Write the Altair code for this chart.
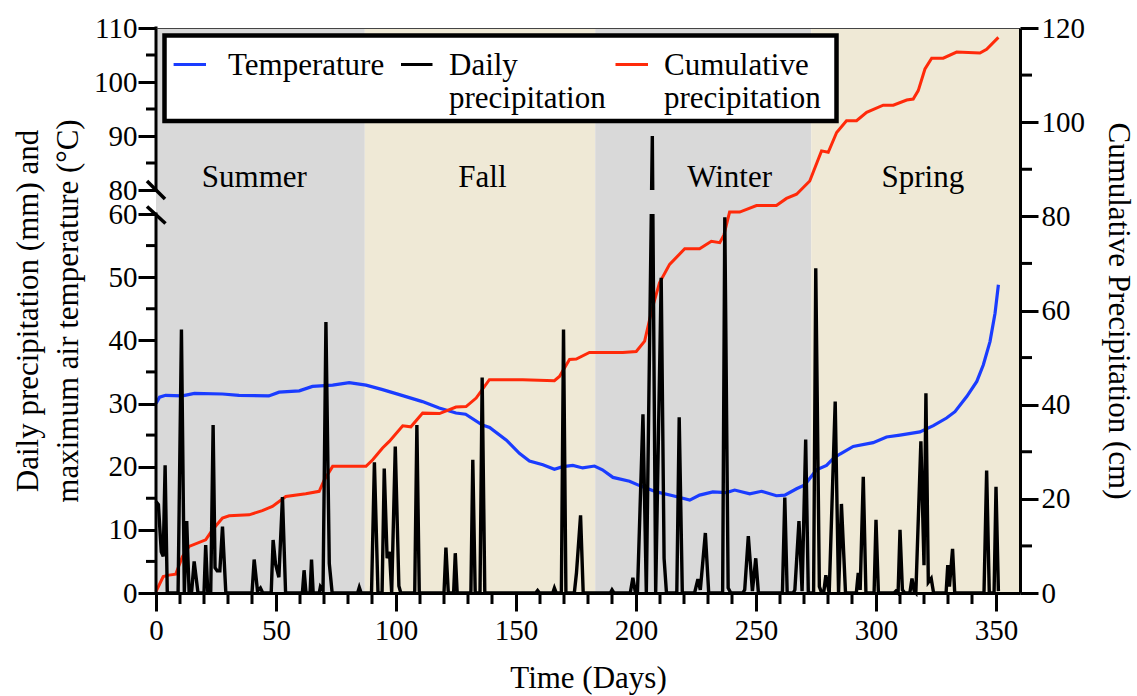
import altair as alt
import pandas as pd

# ---------------- data ----------------
# (day, maximum air temperature in degC)
temperature_points = [
    (0, 30.0), (1.5, 31.0), (4, 31.3), (11, 31.2), (16, 31.6), (27.7, 31.5),
    (34.6, 31.3), (47, 31.2), (51.3, 31.8), (59.7, 32.0), (65.2, 32.7),
    (73.6, 32.9), (80.5, 33.3), (87.5, 32.9), (94.4, 32.2), (101.4, 31.4),
    (111, 30.3), (118, 29.3), (125, 28.5), (129, 28.3), (136, 26.6),
    (139, 26.2), (146, 24.2), (151.4, 22.1), (155.6, 20.9), (161.2, 20.3),
    (166, 19.6), (169.5, 20.0), (173.7, 20.2), (177.8, 19.8), (182.7, 20.1),
    (186, 19.5), (190.4, 18.3), (197.3, 17.7), (201.5, 17.0), (208.5, 16.0),
    (215.4, 15.4), (222.4, 14.7), (226.5, 15.5), (232, 16.0), (237.7, 15.9),
    (241.1, 16.3), (247.4, 15.7), (252.3, 16.1), (258.5, 15.4), (262, 15.5),
    (266.9, 16.5), (270.3, 17.1), (275.2, 19.5), (279.4, 20.2), (282.2, 21.3),
    (285, 22.0), (290.5, 23.2), (298.8, 23.8), (304.4, 24.7), (310, 25.0),
    (318.3, 25.5), (323.9, 26.5), (329.4, 27.7), (332.9, 28.7), (337.8, 31.1),
    (342, 33.5), (344.7, 36.1), (347.5, 39.8), (349.6, 44.3), (351, 48.8),
]

# (day, daily precipitation in mm)
rain_points = [
    (0, 14.5), (1, 14.0), (2.2, 6.5), (3, 5.8), (3.8, 20.2), (4.7, 0),
    (9.2, 0), (10.6, 41.7), (11.8, 0), (12.8, 11.4), (13.8, 0), (14.8, 0),
    (15.9, 5.0), (17.5, 0),
    (20, 0), (20.7, 7.6), (21.6, 0), (22.8, 0), (23.8, 26.6), (24.6, 4.0),
    (25.5, 3.5), (26.6, 3.5), (27.7, 10.5), (29.1, 0),
    (40, 0), (40.9, 5.3), (42.3, 0.3), (43.5, 0.8), (44.5, 0),
    (48, 0), (48.8, 8.4), (49.8, 4.6), (51.2, 2.5), (52.7, 15.2), (54, 0),
    (61, 0), (61.7, 3.6), (62.5, 0), (64.2, 0), (64.8, 5.3), (65.5, 0),
    (68, 0), (68.5, 1.0), (69.6, 0.4), (70.8, 42.9), (72.2, 4.7), (73.4, 0),
    (84, 0), (84.7, 0.9), (85.5, 0),
    (89.8, 0), (91, 20.7), (92.5, 0), (94.2, 0), (95.1, 19.7), (96.3, 5.5),
    (97.3, 6.5), (98.2, 0), (99.7, 23.2), (101.2, 1.1), (102, 0),
    (107.8, 0), (108.7, 26.6), (109.7, 0),
    (120, 0), (120.8, 7.2), (121.8, 0), (124, 0), (124.7, 6.3), (125.5, 0),
    (131.2, 0), (132, 21.1), (133, 0), (135, 0), (135.9, 34.1), (137, 0),
    (158.2, 0), (159, 0.4), (159.8, 0), (165.3, 0), (166, 0.8), (166.8, 0),
    (168.9, 0), (169.8, 41.7), (170.8, 0),
    (174.3, 0), (175.2, 3.2), (176.9, 12.3), (178, 0),
    (189.3, 0), (190, 0.5), (190.8, 0),
    (197.6, 0), (198.7, 2.4), (199.8, 0), (200.6, 0), (202.9, 28.3),
    (204.3, 0), (206.8, 90.0), (208.2, 0), (210.5, 49.9), (211.7, 5.5),
    (212.7, 0),
    (217, 0), (218, 27.8), (219.3, 0),
    (224.4, 0), (225.8, 2.2), (226.8, 0.5), (228.9, 9.5), (230.3, 0),
    (236.1, 0), (237, 59.5), (238.4, 0.8), (239.5, 0),
    (244.5, 0), (245.3, 0.5), (246.8, 9.0), (248.5, 0.3), (249.9, 5.5), (251, 0),
    (261, 0), (262, 15.1), (263, 0),
    (265.5, 0), (266.2, 0.5), (267.9, 11.4), (269.2, 0.3), (270.7, 24.3),
    (271.8, 0),
    (274, 0), (274.9, 51.4), (276.4, 1.0), (277.4, 0), (278.2, 0), (279.1, 2.8),
    (280.5, 0), (283, 30.3), (284.4, 0), (285.6, 14.1), (287.3, 0),
    (291.8, 0), (292.6, 3.2), (293.4, 0.5), (294.7, 18.4), (295.8, 0),
    (299.2, 0), (300, 11.6), (301, 0),
    (307.5, 0), (308.3, 0.3), (309.2, 0), (310, 10.0), (311, 0.5), (312, 0),
    (314.1, 0), (315, 2.3), (315.9, 0.3), (316.6, 0), (318.7, 24.0),
    (320, 4.4), (320.8, 31.6), (321.8, 1.7), (323, 2.3), (324, 0),
    (329.2, 0), (329.9, 4.4), (330.6, 1.0), (331.9, 7.0), (332.8, 0),
    (345, 0), (346.1, 19.4), (347.2, 0), (349.2, 0), (350, 16.8), (351, 0.3),
]

# (day, cumulative precipitation in cm)
cumulative_points = [
    (0, 0.3), (3, 3.5), (5.4, 3.8), (8.2, 4.0), (11, 7.7), (13.8, 9.9),
    (20.7, 11.3), (23.5, 13.4), (27.7, 15.9), (30.5, 16.4), (38.8, 16.6),
    (44.3, 17.5), (48.5, 18.4), (54.1, 20.5), (62.4, 21.1), (68, 21.6),
    (70.1, 24.0), (73.6, 26.9), (87.5, 26.9), (90.3, 28.3), (94.4, 30.8),
    (97.2, 32.2), (102.8, 35.5), (106.2, 35.3), (111.1, 38.2), (118.1, 38.1),
    (125, 39.5), (129.2, 39.6), (133.4, 41.4), (138.9, 45.3), (152.8, 45.3),
    (166, 45.1), (168.1, 46.0), (172.3, 49.6), (175.1, 49.7), (180.6, 51.1),
    (194.5, 51.1), (200.1, 51.3), (203.6, 53.5), (205.7, 58.1), (207, 60.9),
    (209.8, 65.9), (214, 69.8), (220.3, 73.1), (226.5, 73.1), (231.4, 74.7),
    (234.9, 74.4), (236.6, 76.0), (239, 80.9), (243.2, 80.9), (250.2, 82.3),
    (258.5, 82.3), (262.7, 83.8), (266.9, 84.7), (272.4, 87.5), (277.3, 93.9),
    (280.1, 93.6), (283.6, 97.8), (287.7, 100.3), (291.9, 100.3),
    (296.1, 102.1), (303, 103.6), (307.2, 103.6), (312.8, 104.7),
    (315.5, 104.9), (317.6, 106.7), (320.4, 111.3), (323.2, 113.6),
    (328, 113.6), (333.6, 114.9), (343.3, 114.7), (346.1, 115.5), (351, 118.0),
]

season_names = ["Summer", "Fall", "Winter", "Spring"]
season_start = [0, 87, 183, 273]
season_end = [87, 183, 273, 360]
season_label_day = [41, 136, 239, 319.5]
season_label_level = 80.6

series_labels = ["Temperature", "Daily\nprecipitation", "Cumulative\nprecipitation"]

left_major = [0, 10, 20, 30, 40, 50, 60, 80, 90, 100, 110]
left_minor = [5, 15, 25, 35, 45, 55, 85, 95, 105]
right_major = [0, 20, 40, 60, 80, 100, 120]
right_minor = [10, 30, 50, 70, 90, 110]
x_major = [0, 50, 100, 150, 200, 250, 300, 350]
x_minor = [10, 20, 30, 40, 60, 70, 80, 90, 110, 120, 130, 140, 160, 170, 180,
           190, 210, 220, 230, 240, 260, 270, 280, 290, 310, 320, 330, 340]

# ---------------- styling ----------------
FONT = "Liberation Serif"
TICK_FS = 29
TEXT_FS = 31
W, H = 864, 565
BLUE = "#1a3cff"
RED = "#ff2a0a"
BLACK = "#000000"
GRAY = "#d9d9d9"
BEIGE = "#efe9d6"
season_fill = [GRAY, BEIGE, GRAY, BEIGE]

temp_df = pd.DataFrame(temperature_points, columns=["day", "value"])
rain_df = pd.DataFrame(rain_points, columns=["day", "value"])
cum_df = pd.DataFrame(cumulative_points, columns=["day", "value"])
season_df = pd.DataFrame({
    "season": season_names, "start": season_start, "end": season_end,
    "fill": season_fill, "label_day": season_label_day,
    "label_level": [season_label_level] * len(season_names),
})
left_break_df = pd.DataFrame({"y0": [0, 80], "y1": [60, 110]})
left_minor_df = pd.DataFrame({"v": left_minor})
right_minor_df = pd.DataFrame({"v": right_minor})
x_minor_df = pd.DataFrame({"v": x_minor})
one = pd.DataFrame({"k": [0]})

x_scale = alt.Scale(domain=[0, 360], nice=False, zero=False)
y_left = alt.Scale(domain=[0, 60, 80, 110], range=[H, 186, 162, 0], nice=False, zero=False)
y_right = alt.Scale(domain=[0, 120], nice=False, zero=False)

x_axis = alt.Axis(
    orient="bottom", values=x_major, title="Time (Days)", tickSize=18, tickWidth=3,
    tickColor=BLACK, domainWidth=3, domainColor=BLACK,
    labelFont=FONT, labelFontSize=TICK_FS, labelColor=BLACK, labelPadding=5,
    labelFlush=False, labelOverlap=False,
    titleFont=FONT, titleFontSize=TEXT_FS, titleFontWeight="normal", titleColor=BLACK,
    titlePadding=18, grid=False, zindex=1,
)
left_axis = alt.Axis(
    orient="left", values=left_major, domain=False, tickSize=18, tickWidth=3,
    tickColor=BLACK, labelFont=FONT, labelFontSize=TICK_FS, labelColor=BLACK,
    labelPadding=1, labelOverlap=False, labelFlush=False, grid=False, zindex=1,
    title=["Daily precipitation (mm) and", "maximum air temperature (°C)"],
    titleFont=FONT, titleFontSize=TEXT_FS, titleFontWeight="normal", titleColor=BLACK,
    titleLineHeight=40, titlePadding=9,
)
right_axis = alt.Axis(
    orient="right", values=right_major, domainWidth=3, domainColor=BLACK,
    tickSize=18, tickWidth=3, tickColor=BLACK, labelFont=FONT, labelFontSize=TICK_FS,
    labelColor=BLACK, labelPadding=3, labelOverlap=False, labelFlush=False,
    grid=False, zindex=1, title="Cumulative Precipitation (cm)",
    titleFont=FONT, titleFontSize=TEXT_FS, titleFontWeight="normal", titleColor=BLACK,
    titlePadding=17,
)


def xenc(field):
    # every layer shares the same day scale and the same bottom axis
    return alt.X(field, scale=x_scale, axis=x_axis)


bg = alt.Chart(season_df).mark_rect().encode(
    x=xenc("start:Q"),
    x2="end:Q",
    color=alt.Color("fill:N", scale=None),
)

season_text = alt.Chart(season_df).mark_text(
    font=FONT, fontSize=TEXT_FS, align="center", baseline="alphabetic", color=BLACK
).encode(
    x=xenc("label_day:Q"),
    y=alt.Y("label_level:Q", scale=y_left, axis=None),
    text="season:N",
)

temp_line = alt.Chart(temp_df).mark_line(color=BLUE, strokeWidth=3.2).encode(
    x=xenc("day:Q"),
    y=alt.Y("value:Q", scale=y_left, axis=left_axis),
)

cum_line = alt.Chart(cum_df).mark_line(color=RED, strokeWidth=3).encode(
    x=xenc("day:Q"),
    y=alt.Y("value:Q", scale=y_right, axis=right_axis),
)

rain_line = alt.Chart(rain_df).mark_line(color=BLACK, strokeWidth=3.4).encode(
    x=xenc("day:Q"),
    y=alt.Y("value:Q", scale=y_left, axis=None),
)

# hides the part of the tallest spike that falls inside the axis break
break_cover = alt.Chart(one).mark_rect(color=GRAY).encode(
    x=alt.X(datum=205.3, scale=x_scale, axis=x_axis),
    x2=alt.X2(datum=208.3),
    y=alt.Y(datum=60, scale=y_left, axis=None),
    y2=alt.Y2(datum=80),
)

left_domain = alt.Chart(left_break_df).mark_rule(
    color=BLACK, strokeWidth=3, strokeCap="square"
).encode(
    x=alt.value(0),
    y=alt.Y("y0:Q", scale=y_left, axis=None),
    y2="y1:Q",
)

left_minor_ticks = alt.Chart(left_minor_df).mark_rule(color=BLACK, strokeWidth=3).encode(
    x=alt.value(-10), x2=alt.value(0),
    y=alt.Y("v:Q", scale=y_left, axis=None),
)
right_minor_ticks = alt.Chart(right_minor_df).mark_rule(color=BLACK, strokeWidth=3).encode(
    x=alt.value(W), x2=alt.value(W + 12),
    y=alt.Y("v:Q", scale=y_right, axis=None),
)
x_minor_ticks = alt.Chart(x_minor_df).mark_rule(color=BLACK, strokeWidth=3).encode(
    x=xenc("v:Q"),
    y=alt.value(H), y2=alt.value(H + 11),
)

slash_80 = alt.Chart(one).mark_rule(color=BLACK, strokeWidth=3.5).encode(
    x=alt.value(-9), x2=alt.value(9), y=alt.value(153), y2=alt.value(171)
)
slash_60 = alt.Chart(one).mark_rule(color=BLACK, strokeWidth=3.5).encode(
    x=alt.value(-9), x2=alt.value(9.5), y=alt.value(178.5), y2=alt.value(195.5)
)
top_edge = alt.Chart(one).mark_rule(color="#444444", strokeWidth=1).encode(
    x=alt.value(0), x2=alt.value(W), y=alt.value(0.5)
)

# ---------------- legend box ----------------
legend_layers = [
    alt.Chart(one).mark_rect(fill="white", stroke=BLACK, strokeWidth=4.5).encode(
        x=alt.value(8.5), x2=alt.value(680.5), y=alt.value(7.5), y2=alt.value(93)
    )
]
legend_colors = [BLUE, BLACK, RED]
legend_sym_x = [(17.6, 50), (245, 276.5), (459.5, 492)]
legend_text_x = [72, 293, 508]
for label, col, (sx1, sx2), tx in zip(series_labels, legend_colors, legend_sym_x, legend_text_x):
    legend_layers.append(
        alt.Chart(one).mark_rule(color=col, strokeWidth=3).encode(
            x=alt.value(sx1), x2=alt.value(sx2), y=alt.value(36.5)
        )
    )
    legend_layers.append(
        alt.Chart(one).mark_text(
            font=FONT, fontSize=TEXT_FS, align="left", baseline="alphabetic",
            lineBreak="\n", lineHeight=33, color=BLACK, text=label,
        ).encode(x=alt.value(tx), y=alt.value(47))
    )

chart = alt.layer(
    bg, season_text, temp_line, cum_line, rain_line, break_cover, left_domain,
    left_minor_ticks, right_minor_ticks, x_minor_ticks, slash_80, slash_60,
    top_edge, *legend_layers,
).resolve_scale(
    y="independent"
).properties(
    width=W, height=H,
    padding={"left": 156, "top": 28, "right": 117, "bottom": 103},
    autosize=alt.AutoSizeParams(type="none"),
    background="white",
).configure_view(
    stroke=None
)

chart.save("out.html", embed_options={"renderer": "svg", "actions": False})
